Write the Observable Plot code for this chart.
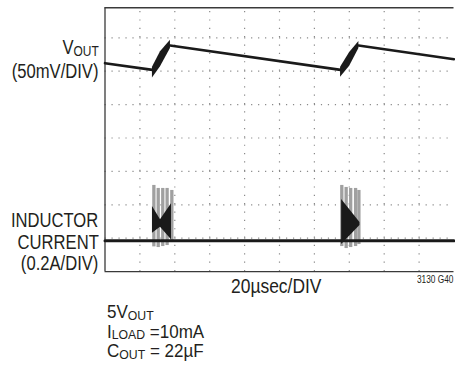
<!DOCTYPE html>
<html><head><meta charset="utf-8">
<script src="https://cdn.jsdelivr.net/npm/d3@7"></script>
<script src="https://cdn.jsdelivr.net/npm/@observablehq/plot@0.6"></script>
<style>
body{margin:0;background:#fff;}
#wrap{position:relative;width:455px;height:368px;overflow:hidden;font-family:"Liberation Sans",Arial,sans-serif;color:#231f20;}
#wrap svg{position:absolute;left:0;top:0;}
.lbl{position:absolute;white-space:nowrap;line-height:1;font-size:20px;transform:scaleX(0.83);transform-origin:left center;}
.r{text-align:right;transform-origin:right center;}
.cap{transform:scaleX(0.92);}
.s{font-size:0.72em;position:relative;top:0.15em;}
</style>
</head><body>
<div id="wrap"></div>
<script>
// time in µs (20 µs/DIV), vertical position in divisions (0..8)
const gridTime = [20, 40, 60, 80, 100, 120, 140, 160, 180];
const gridDiv = [1, 2, 3, 4, 5, 6, 7];

const voutSeg = ["a", "a", "b", "b", "c", "c"];
const voutTime = [0, 27.2, 37.3, 135.0, 145.3, 200];
const voutDiv = [6.24, 6.04, 6.77, 6.04, 6.77, 6.36];

const rampSeg = [1, 1, 1, 2, 2, 2];
const rampTime = [27.2, 31.8, 37.5, 135.0, 140.2, 145.5];
const rampHigh = [6.12, 6.58, 6.93, 6.12, 6.56, 6.89];
const rampLow = [5.80, 6.13, 6.68, 5.82, 6.15, 6.68];

const currentTime = [0, 200];
const currentDiv = [0.92, 0.92];

const stripeTime = [28.0, 30.5, 33.1, 35.6, 38.3, 135.7, 138.2, 140.8, 143.6, 145.5];
const stripeTop = [2.58, 2.49, 2.49, 2.49, 2.43, 2.58, 2.52, 2.49, 2.49, 2.43];
const stripeBottom = [0.74, 0.72, 0.75, 0.78, 0.87, 0.75, 0.69, 0.72, 0.75, 0.81];

const envSeg = [1, 1, 1, 2, 2];
const envTime = [27.2, 31.8, 38.1, 135.6, 146.1];
const envHigh = [1.95, 1.55, 2.03, 2.16, 1.47];
const envLow = [1.15, 1.33, 0.95, 0.81, 1.38];

const frameTop = 7.9;

const vout = voutTime.map((t, i) => ({t, v: voutDiv[i], s: voutSeg[i]}));
const ramps = rampTime.map((t, i) => ({t, hi: rampHigh[i], lo: rampLow[i], s: rampSeg[i]}));
const current = currentTime.map((t, i) => ({t, v: currentDiv[i]}));
const stripes = stripeTime.map((t, i) => ({t, top: stripeTop[i], bot: stripeBottom[i]}));
const env = envTime.map((t, i) => ({t, hi: envHigh[i], lo: envLow[i], s: envSeg[i]}));

const chart = Plot.plot({
  width: 455, height: 368,
  marginLeft: 104.5, marginRight: 1.5, marginTop: 3.9, marginBottom: 96.9,
  x: {domain: [0, 200], axis: null},
  y: {domain: [0, 8], axis: null},
  style: {background: "transparent", overflow: "visible"},
  marks: [
    Plot.ruleX(gridTime, {x: d => d, y1: 0, y2: frameTop, stroke: "#8a8a8a", strokeWidth: 1.2, strokeDasharray: "1.2 7.15"}),
    Plot.ruleY(gridDiv, {y: d => d, x1: 0, x2: 200, stroke: "#8a8a8a", strokeWidth: 1.2, strokeDasharray: "1.2 5.78"}),
    Plot.ruleX([0], {y1: 0, y2: frameTop, stroke: "#3a3a3a", strokeWidth: 1.3}),
    Plot.ruleY([0, frameTop], {x1: 0, x2: 200, stroke: "#3a3a3a", strokeWidth: 1.3}),
    Plot.ruleX(stripes, {x: "t", y1: "bot", y2: "top", stroke: "#a0a0a0", strokeWidth: 3.3}),
    Plot.line(current, {x: "t", y: "v", stroke: "#1a1a1a", strokeWidth: 3}),
    Plot.areaY(env, {x: "t", y1: "lo", y2: "hi", z: "s", fill: "#1a1a1a"}),
    Plot.line(vout, {x: "t", y: "v", z: "s", stroke: "#1a1a1a", strokeWidth: 2.6}),
    Plot.areaY(ramps, {x: "t", y1: "lo", y2: "hi", z: "s", fill: "#1a1a1a"})
  ]
});

const wrap = document.getElementById("wrap");
wrap.appendChild(chart);

const labels = [
  {html: 'V<span class="s">OUT</span>', cls: "r", right: 356.5, top: 36.6},
  {html: '(50mV/DIV)', cls: "r", right: 356.5, top: 61},
  {html: 'INDUCTOR', cls: "r", right: 356.5, top: 209.6},
  {html: 'CURRENT', cls: "r", right: 356.5, top: 231.6},
  {html: '(0.2A/DIV)', cls: "r", right: 356.5, top: 253.1},
  {html: '20µsec/DIV', cls: "", left: 231, top: 275, size: 21},
  {html: '3130 G40', cls: "", left: 417, top: 275, size: 10},
  {html: '5V<span class="s">OUT</span>', cls: "cap", left: 107, top: 303, size: 18.5},
  {html: 'I<span class="s">LOAD</span> =10mA', cls: "cap", left: 107, top: 322.5, size: 18.5},
  {html: 'C<span class="s">OUT</span> = 22µF', cls: "cap", left: 107, top: 342, size: 18.5}
];
for (const l of labels) {
  const d = document.createElement("div");
  d.className = "lbl " + l.cls;
  d.innerHTML = l.html;
  if (l.right !== undefined) d.style.right = l.right + "px";
  if (l.left !== undefined) d.style.left = l.left + "px";
  d.style.top = l.top + "px";
  if (l.size) d.style.fontSize = l.size + "px";
  wrap.appendChild(d);
}
</script>
</body></html>
